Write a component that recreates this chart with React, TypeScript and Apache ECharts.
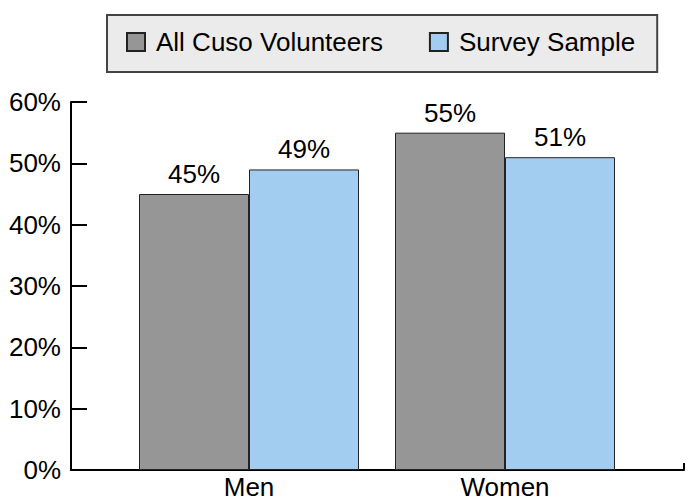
import React, { useEffect, useRef } from "react";
import * as echarts from "echarts";

const categories = ["Men", "Women"];
const seriesNames = ["All Cuso Volunteers", "Survey Sample"];
const allCusoVolunteers = [45, 55];
const surveySample = [49, 51];
const yTicks = { min: 0, max: 60, interval: 10 };

const FONT = "'Liberation Sans', Arial, Helvetica, sans-serif";

export default function App() {
  const ref = useRef<HTMLDivElement>(null);
  useEffect(() => {
    if (!ref.current) return;
    const chart = echarts.init(ref.current, undefined, { renderer: "svg" });
    const labelStyle = {
      show: true,
      position: "top" as const,
      distance: 7,
      fontSize: 26,
      color: "#000",
      fontFamily: FONT,
      formatter: "{c}%",
    };
    chart.setOption({
      animation: false,
      textStyle: { fontFamily: FONT },
      legend: {
        left: 107,
        top: 15,
        padding: [14, 22, 17, 19],
        itemGap: 46,
        itemWidth: 18,
        itemHeight: 18,
        icon: "rect",
        backgroundColor: "#ebebeb",
        borderColor: "#444",
        borderWidth: 2,
        textStyle: {
          fontSize: 26,
          color: "#000",
          fontFamily: FONT,
          padding: [0, 0, 0, 6],
        },
        data: seriesNames,
      },
      grid: [
        { left: 71, right: 4, top: 102, bottom: 31 },
        { left: 121, right: 55, top: 102, bottom: 31 },
      ],
      xAxis: [
        {
          gridIndex: 0,
          type: "value",
          min: 0,
          max: 1,
          interval: 1,
          axisLine: { show: true, lineStyle: { color: "#000", width: 2 } },
          axisTick: { show: true, inside: true, length: 7, lineStyle: { color: "#000", width: 2 } },
          axisLabel: { show: false },
          splitLine: { show: false },
        },
        {
          gridIndex: 1,
          type: "category",
          data: categories,
          axisLine: { show: false },
          axisTick: { show: false },
          axisLabel: { fontSize: 26, lineHeight: 26, color: "#000", margin: 4, fontFamily: FONT },
        },
      ],
      yAxis: [
        {
          gridIndex: 0,
          type: "value",
          min: yTicks.min,
          max: yTicks.max,
          interval: yTicks.interval,
          axisLine: { show: true, lineStyle: { color: "#000", width: 2 } },
          axisTick: { show: true, inside: true, length: 16, lineStyle: { color: "#000", width: 2 } },
          axisLabel: { fontSize: 26, color: "#000", margin: 10, formatter: "{value}%", fontFamily: FONT },
          splitLine: { show: false },
        },
        {
          gridIndex: 1,
          type: "value",
          min: yTicks.min,
          max: yTicks.max,
          interval: yTicks.interval,
          show: false,
        },
      ],
      series: [
        {
          name: seriesNames[0],
          type: "bar",
          xAxisIndex: 1,
          yAxisIndex: 1,
          data: allCusoVolunteers,
          barWidth: 110,
          barGap: "0%",
          itemStyle: { color: "#969696", borderColor: "#222", borderWidth: 1 },
          label: labelStyle,
        },
        {
          name: seriesNames[1],
          type: "bar",
          xAxisIndex: 1,
          yAxisIndex: 1,
          data: surveySample,
          barWidth: 110,
          barGap: "0%",
          itemStyle: { color: "#a3cdf0", borderColor: "#222", borderWidth: 1 },
          label: labelStyle,
        },
      ],
    });
    return () => chart.dispose();
  }, []);
  return (
    <div
      ref={ref}
      style={{ position: "absolute", left: 0, top: 0, width: 688, height: 501, background: "#fff" }}
    />
  );
}
